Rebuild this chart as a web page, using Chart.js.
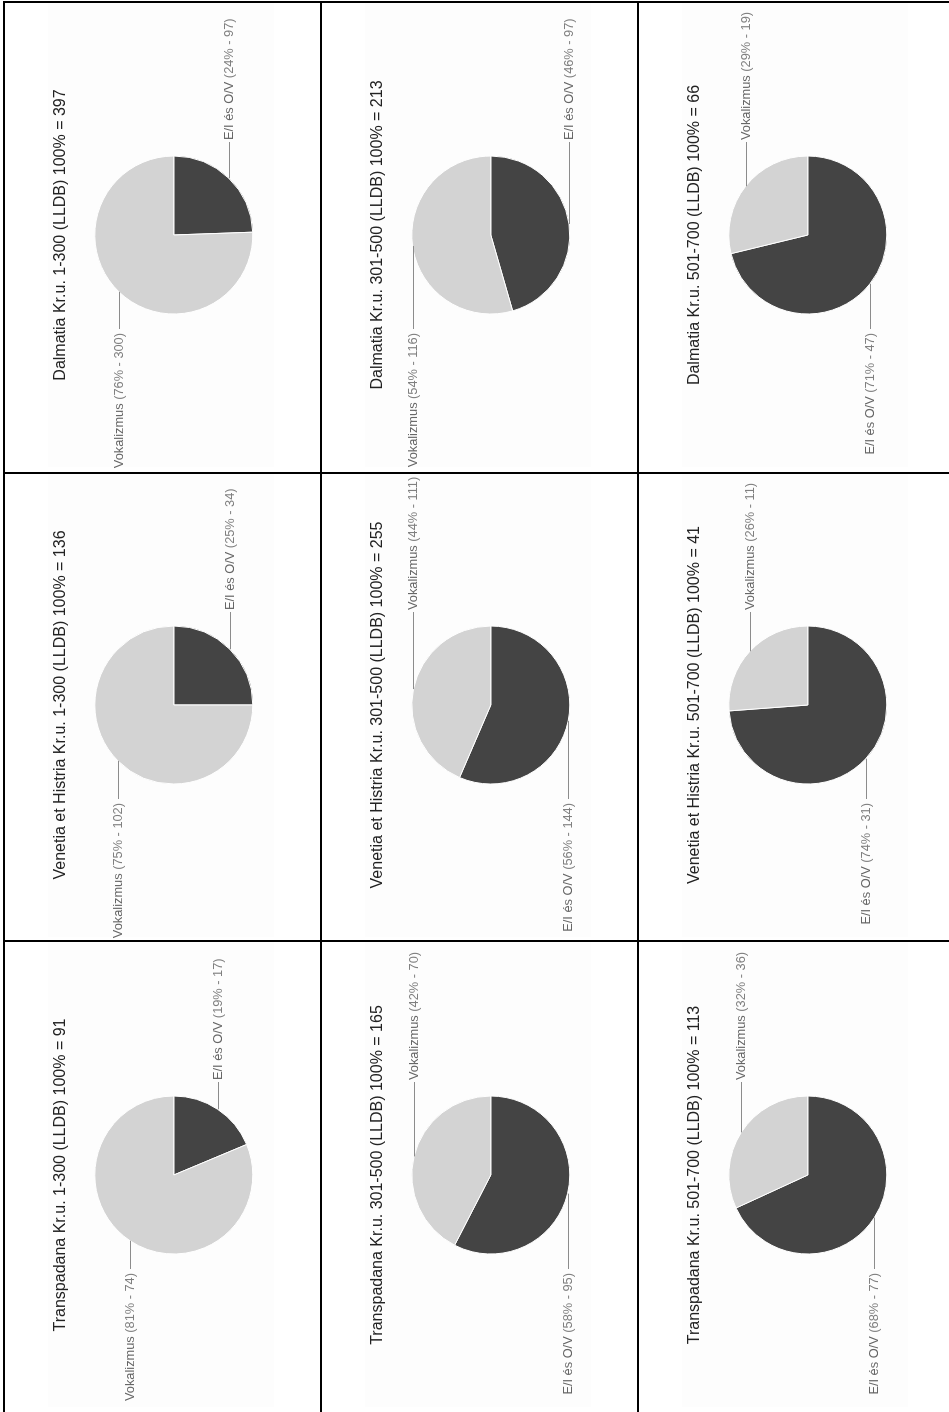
<!DOCTYPE html>
<html>
<head>
<meta charset="utf-8">
<script src="https://cdn.jsdelivr.net/npm/chart.js@4"></script>
<style>
  html, body { margin: 0; padding: 0; background: #fff; overflow: hidden; }
  body { width: 949px; height: 1412px; position: relative; }
  /* the table is laid out landscape and turned a quarter left */
  #sheet {
    position: absolute; left: 0; top: 0;
    width: 1412px; height: 949px;
    transform-origin: 0 0;
    transform: translateY(1412px) rotate(-90deg);
  }
  #sheet canvas { position: absolute; }
  .rule { position: absolute; background: #000; z-index: 2; }
</style>
</head>
<body>
<div id="sheet"></div>
<script>
const regions = ["Transpadana", "Venetia et Histria", "Dalmatia"];
const periods = ["1-300", "301-500", "501-700"];
const seriesNames = ["E/I és O/V", "Vokalizmus"];

// one row per period, one column per region
const eiOvCounts = [
  [17, 34, 97],
  [95, 144, 97],
  [77, 31, 47]
];
const vokalizmusCounts = [
  [74, 102, 300],
  [70, 111, 116],
  [36, 11, 19]
];
const totals = [
  [91, 136, 397],
  [165, 255, 213],
  [113, 41, 66]
];

const DARK = "#444444";
const LIGHT = "#d3d3d3";
const FONT = '"Liberation Sans", Arial, sans-serif';

const sheet = document.getElementById("sheet");
const colX = [0, 470, 940];
const rowY = [5, 322, 639];

// faint panel behind each pie
const panel = {
  id: "panel",
  beforeDraw(chart) {
    const ctx = chart.ctx;
    ctx.save();
    ctx.fillStyle = "#fdfdfd";
    ctx.fillRect(5, 43, chart.width - 5, 226);
    ctx.restore();
  }
};

// labels beside the pie with a leader line from each slice
const leaderLabels = {
  id: "leaderLabels",
  afterDatasetsDraw(chart) {
    const ctx = chart.ctx;
    const meta = chart.getDatasetMeta(0);
    const values = chart.data.datasets[0].data;
    const sum = values.reduce((a, b) => a + b, 0);
    ctx.save();
    ctx.font = "12.8px " + FONT;
    ctx.textBaseline = "middle";
    ctx.textAlign = "left";
    meta.data.forEach((arc, i) => {
      const p = arc.getProps(["x", "y", "startAngle", "endAngle", "outerRadius"], true);
      const mid = (p.startAngle + p.endAngle) / 2;
      const ax = p.x + Math.cos(mid) * p.outerRadius;
      const ay = Math.round(p.y + Math.sin(mid) * p.outerRadius) + 0.5;
      const name = chart.data.labels[i];
      const detail = " (" + Math.round(values[i] / sum * 100) + "% - " + values[i] + ")";
      const nameW = ctx.measureText(name).width;
      const fullW = ctx.measureText(name + detail).width;
      let tx, lineEnd;
      if (Math.cos(mid) >= 0) {
        tx = p.x + p.outerRadius + 16;
        lineEnd = tx - 2;
      } else {
        tx = p.x - p.outerRadius - 19 - fullW;
        lineEnd = p.x - p.outerRadius - 15;
      }
      ctx.strokeStyle = "#8c8c8c";
      ctx.lineWidth = 1;
      ctx.beginPath();
      ctx.moveTo(ax, ay);
      ctx.lineTo(lineEnd, ay);
      ctx.stroke();
      ctx.fillStyle = "#666";
      ctx.fillText(name, tx, ay);
      ctx.fillStyle = "#808080";
      ctx.fillText(detail, tx + nameW, ay);
    });
    ctx.restore();
  }
};

periods.forEach((period, r) => {
  regions.forEach((region, c) => {
    const canvas = document.createElement("canvas");
    canvas.width = 470;
    canvas.height = 315;
    canvas.style.left = colX[c] + "px";
    canvas.style.top = rowY[r] + "px";
    sheet.appendChild(canvas);

    new Chart(canvas, {
      type: "pie",
      data: {
        labels: seriesNames,
        datasets: [{
          data: [eiOvCounts[r][c], vokalizmusCounts[r][c]],
          backgroundColor: [DARK, LIGHT],
          borderColor: "#ffffff",
          borderWidth: 1
        }]
      },
      options: {
        responsive: false,
        animation: false,
        rotation: 90,
        radius: 79,
        layout: { padding: { left: 4, right: 0, top: 0, bottom: 53 } },
        plugins: {
          legend: { display: false },
          tooltip: { enabled: false },
          title: {
            display: true,
            text: region + " Kr.u. " + period + " (LLDB) 100% = " + totals[r][c],
            color: "#222",
            font: { family: FONT, size: 16, weight: "normal", lineHeight: 1.2 },
            padding: { top: 46.4, bottom: 10 }
          }
        }
      },
      plugins: [panel, leaderLabels]
    });
  });
});

// table rules
function rule(x, y, w, h) {
  const d = document.createElement("div");
  d.className = "rule";
  d.style.left = x + "px";
  d.style.top = y + "px";
  d.style.width = w + "px";
  d.style.height = h + "px";
  sheet.appendChild(d);
}
rule(0, 3, 1411, 2);
rule(0, 320, 1411, 2);
rule(0, 637, 1411, 2);
rule(470, 3, 2, 946);
rule(938, 3, 2, 946);
rule(1409, 3, 2, 946);
</script>
</body>
</html>
